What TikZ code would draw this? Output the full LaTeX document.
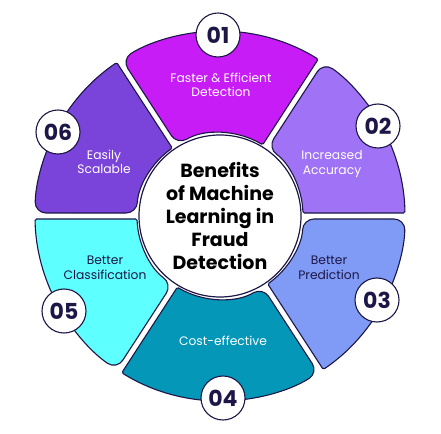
\documentclass[tikz,border=0pt]{standalone}
\usepackage{fontspec}
\setmainfont{Poppins}
\usetikzlibrary{calc}
\definecolor{navy}{HTML}{1C1747}
\definecolor{cA}{HTML}{C71CF5}
\definecolor{cB}{HTML}{9F72F6}
\definecolor{cC}{HTML}{809BF5}
\definecolor{cD}{HTML}{0497B8}
\definecolor{cE}{HTML}{5EFFFF}
\definecolor{cF}{HTML}{7A43D9}
\newcommand\drawsegment[3]{%
  \path[segline, fill=#3, rounded corners=11pt] ({(#1+#2)/2}:185)
    arc[start angle={(#1+#2)/2}, end angle=#2-0.93, radius=185]
    -- (#2-2.07:83) [rounded corners=1.5pt]
    arc[start angle=#2-2.07, end angle=#1+2.07, radius=83]
    -- (#1+0.93:185) [rounded corners=11pt]
    arc[start angle=#1+0.93, end angle={(#1+#2)/2}, radius=185];}
\begin{document}
\begin{tikzpicture}[x=1pt,y=1pt,
  segline/.style={draw=navy, line width=1.1pt},
  badge/.style={circle, draw=navy, line width=1.1pt, fill=white, minimum size=44pt, inner sep=0pt,
    font=\fontsize{22}{22}\selectfont\bfseries, text=navy},
  lbl/.style={align=center, font=\fontsize{12.3}{14.5}\selectfont, text=white},
  dlbl/.style={lbl, text=navy}]
\useasboundingbox (-220,-217) rectangle (221,216);
\drawsegment{57}{123}{cA}
\drawsegment{0}{57}{cB}
\drawsegment{-57}{0}{cC}
\drawsegment{-123}{-57}{cD}
\drawsegment{180}{237}{cE}
\drawsegment{123}{180}{cF}
\node[circle, draw=navy, line width=1.2pt, fill=white, minimum size=162pt, inner sep=0pt] (hub) at (0,0) {};
\node[align=center, font=\fontsize{19}{23}\selectfont\bfseries, text=black] (title) at (0,0)
  {Benefits\\of Machine\\Learning in\\Fraud\\Detection};
\node[lbl] (l1) at (1,131) {Faster \& Efficient\\Detection};
\node[lbl] (l2) at (112,52) {Increased\\Accuracy};
\node[dlbl] (l3) at (109,-52) {Better\\Prediction};
\node[lbl] (l4) at (3,-125) {Cost-effective};
\node[dlbl] (l5) at (-115,-52) {Better\\Classification};
\node[lbl] (l6) at (-116,54) {Easily\\Scalable};
\node[badge] (b1) at (-2,181) {01};
\node[badge] (b2) at (158,90) {02};
\node[badge] (b3) at (157,-84) {03};
\node[badge] (b4) at (3,-182) {04};
\node[badge] (b5) at (-156,-95) {05};
\node[badge] (b6) at (-162,84) {06};
\end{tikzpicture}
\end{document}
